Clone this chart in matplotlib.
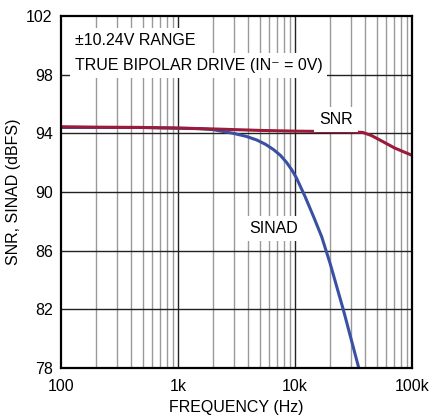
import numpy as np
import matplotlib
matplotlib.use('Agg')
import matplotlib.pyplot as plt
from matplotlib.ticker import FixedLocator, NullFormatter

plt.rcParams['font.family'] = ['Liberation Sans', 'DejaVu Sans']
plt.rcParams['font.size'] = 11.5

# SNR and SINAD vs input frequency
snr_freq = [100, 200, 500, 1000, 2000, 5000, 10000, 20000, 30000, 38000, 45000, 53000, 71000, 100000]
snr_db = [94.45, 94.42, 94.4, 94.36, 94.3, 94.2, 94.15, 94.12, 94.1, 94.06, 93.85, 93.55, 93.0, 92.5]

sinad_freq = [100, 500, 1000, 1500, 2000, 2970, 3800, 4700, 5600, 6530, 7500, 8500, 9400, 10300,
              12200, 14400, 16900, 20000, 23000, 25900, 34800, 36000]
sinad_db = [94.4, 94.4, 94.35, 94.32, 94.25, 94.0, 93.8, 93.55, 93.25, 92.9, 92.5, 92.0, 91.5, 90.95,
            89.68, 88.32, 86.95, 85.1, 83.4, 81.96, 78.1, 77.6]

x_ticks = [100, 1000, 10000, 100000]
x_labels = ['100', '1k', '10k', '100k']
y_ticks = [78, 82, 86, 90, 94, 98, 102]

fig = plt.figure(figsize=(4.31, 4.17), dpi=100)
ax = fig.add_axes([0.1415, 0.1175, 0.8145, 0.8441])

ax.set_xscale('log')
ax.set_xlim(100, 100000)
ax.set_ylim(78, 102)

# grid: horizontal black, vertical major black, minor grey
minors = [m * d for d in (100, 1000, 10000) for m in range(2, 10)]
for f in minors:
    ax.axvline(f, color='#999999', lw=1.0, zorder=1)
for f in x_ticks[1:-1]:
    ax.axvline(f, color='#222222', lw=1.0, zorder=1)
for y in y_ticks[1:-1]:
    ax.axhline(y, color='#222222', lw=1.0, zorder=1)

ax.plot(snr_freq, snr_db, color='#9b1b3a', lw=2.2, zorder=4)
ax.plot(sinad_freq, sinad_db, color='#3a50a2', lw=2.2, zorder=3)

box = dict(facecolor='white', edgecolor='none', pad=3.5)
ax.text(131, 100.02, '\u00b110.24V RANGE', ha='left', va='baseline', bbox=box, zorder=5)
ax.text(131, 98.32, 'TRUE BIPOLAR DRIVE (IN\u207b = 0V)', ha='left', va='baseline', bbox=box, zorder=5)
ax.text(22400, 94.64, 'SNR', ha='center', va='baseline', bbox=box, zorder=5)
ax.text(6580, 87.19, 'SINAD', ha='center', va='baseline', bbox=box, zorder=5)

ax.xaxis.set_major_locator(FixedLocator(x_ticks))
ax.xaxis.set_minor_locator(FixedLocator(minors))
ax.xaxis.set_minor_formatter(NullFormatter())
ax.set_xticklabels(x_labels)
ax.set_yticks(y_ticks)
ax.tick_params(which='both', length=0, pad=6)
ax.tick_params(axis='x', pad=8)

for s in ax.spines.values():
    s.set_linewidth(1.6)
    s.set_color('black')
    s.set_zorder(6)

ax.set_xlabel('FREQUENCY (Hz)', labelpad=4)
ax.set_ylabel('SNR, SINAD (dBFS)', labelpad=4)

fig.savefig('out.png', dpi=100)
